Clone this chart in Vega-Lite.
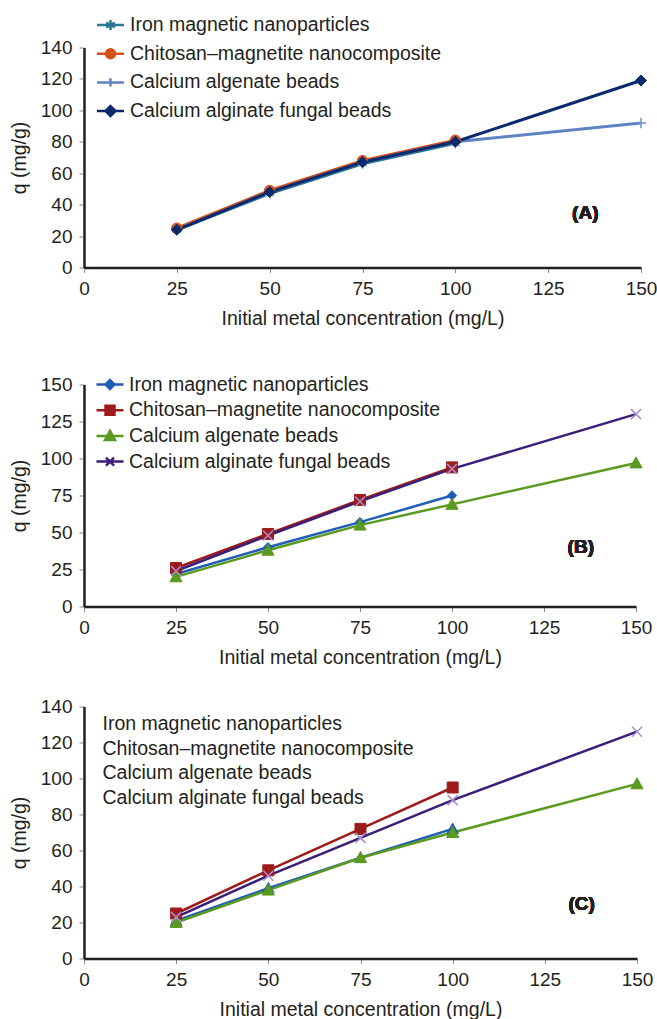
{
  "$schema": "https://vega.github.io/schema/vega-lite/v6.json",
  "padding": {"top": 9.5, "left": 9, "right": 5, "bottom": 5},
  "background": "white",
  "datasets": {
    "a": [
      {"series": "Iron magnetic nanoparticles", "conc": 25, "q": 24},
      {"series": "Iron magnetic nanoparticles", "conc": 50, "q": 47},
      {"series": "Iron magnetic nanoparticles", "conc": 75, "q": 66},
      {"series": "Iron magnetic nanoparticles", "conc": 100, "q": 79},
      {"series": "Chitosan–magnetite nanocomposite", "conc": 25, "q": 25},
      {"series": "Chitosan–magnetite nanocomposite", "conc": 50, "q": 49},
      {"series": "Chitosan–magnetite nanocomposite", "conc": 75, "q": 68},
      {"series": "Chitosan–magnetite nanocomposite", "conc": 100, "q": 81},
      {"series": "Calcium algenate beads", "conc": 25, "q": 24},
      {"series": "Calcium algenate beads", "conc": 50, "q": 48},
      {"series": "Calcium algenate beads", "conc": 75, "q": 67},
      {"series": "Calcium algenate beads", "conc": 100, "q": 80},
      {"series": "Calcium algenate beads", "conc": 150, "q": 92},
      {"series": "Calcium alginate fungal beads", "conc": 25, "q": 24},
      {"series": "Calcium alginate fungal beads", "conc": 50, "q": 48},
      {"series": "Calcium alginate fungal beads", "conc": 75, "q": 67},
      {"series": "Calcium alginate fungal beads", "conc": 100, "q": 80},
      {"series": "Calcium alginate fungal beads", "conc": 150, "q": 119}
    ],
    "b": [
      {"series": "Iron magnetic nanoparticles", "conc": 25, "q": 22},
      {"series": "Iron magnetic nanoparticles", "conc": 50, "q": 40},
      {"series": "Iron magnetic nanoparticles", "conc": 75, "q": 57},
      {"series": "Iron magnetic nanoparticles", "conc": 100, "q": 75},
      {"series": "Chitosan–magnetite nanocomposite", "conc": 25, "q": 26},
      {"series": "Chitosan–magnetite nanocomposite", "conc": 50, "q": 49},
      {"series": "Chitosan–magnetite nanocomposite", "conc": 75, "q": 72},
      {"series": "Chitosan–magnetite nanocomposite", "conc": 100, "q": 94},
      {"series": "Calcium algenate beads", "conc": 25, "q": 20},
      {"series": "Calcium algenate beads", "conc": 50, "q": 38},
      {"series": "Calcium algenate beads", "conc": 75, "q": 55},
      {"series": "Calcium algenate beads", "conc": 100, "q": 69},
      {"series": "Calcium algenate beads", "conc": 150, "q": 97},
      {"series": "Calcium alginate fungal beads", "conc": 25, "q": 24},
      {"series": "Calcium alginate fungal beads", "conc": 50, "q": 48},
      {"series": "Calcium alginate fungal beads", "conc": 75, "q": 71},
      {"series": "Calcium alginate fungal beads", "conc": 100, "q": 93},
      {"series": "Calcium alginate fungal beads", "conc": 150, "q": 130}
    ],
    "c": [
      {"series": "Iron magnetic nanoparticles", "conc": 25, "q": 21},
      {"series": "Iron magnetic nanoparticles", "conc": 50, "q": 39},
      {"series": "Iron magnetic nanoparticles", "conc": 75, "q": 56},
      {"series": "Iron magnetic nanoparticles", "conc": 100, "q": 72},
      {"series": "Chitosan–magnetite nanocomposite", "conc": 25, "q": 25},
      {"series": "Chitosan–magnetite nanocomposite", "conc": 50, "q": 49},
      {"series": "Chitosan–magnetite nanocomposite", "conc": 75, "q": 72},
      {"series": "Chitosan–magnetite nanocomposite", "conc": 100, "q": 95},
      {"series": "Calcium algenate beads", "conc": 25, "q": 20},
      {"series": "Calcium algenate beads", "conc": 50, "q": 38},
      {"series": "Calcium algenate beads", "conc": 75, "q": 56},
      {"series": "Calcium algenate beads", "conc": 100, "q": 70},
      {"series": "Calcium algenate beads", "conc": 150, "q": 97},
      {"series": "Calcium alginate fungal beads", "conc": 25, "q": 23},
      {"series": "Calcium alginate fungal beads", "conc": 50, "q": 46},
      {"series": "Calcium alginate fungal beads", "conc": 75, "q": 67},
      {"series": "Calcium alginate fungal beads", "conc": 100, "q": 88},
      {"series": "Calcium alginate fungal beads", "conc": 150, "q": 126}
    ]
  },
  "bounds": "flush",
  "spacing": 117,
  "resolve": {"scale": {"color": "independent", "fill": "independent", "stroke": "independent", "shape": "independent"}},
  "vconcat": [
    {
      "width": 557,
      "height": 220,
      "data": {"name": "a"},
      "encoding": {
        "x": {"field": "conc", "type": "quantitative", "title": "Initial metal concentration (mg/L)", "scale": {"domain": [0, 150], "nice": false}, "axis": {"values": [0, 25, 50, 75, 100, 125, 150]}},
        "y": {"field": "q", "type": "quantitative", "title": "q (mg/g)", "scale": {"domain": [0, 140], "nice": false}, "axis": {"values": [0, 20, 40, 60, 80, 100, 120, 140]}}
      },
      "layer": [
        {
          "mark": {"type": "line", "strokeWidth": 3},
          "encoding": {
            "color": {
              "field": "series", "type": "nominal",
              "scale": {"domain": ["Iron magnetic nanoparticles", "Chitosan–magnetite nanocomposite", "Calcium algenate beads", "Calcium alginate fungal beads"], "range": ["#2b7a94", "#d4501c", "#5f82c2", "#0b2a6e"]},
              "legend": {
                "orient": "none", "legendX": 11.5, "legendY": -37.5, "title": null,
                "symbolSize": 729, "symbolStrokeWidth": 2.5, "symbolOpacity": 1, "rowPadding": 3.7, "labelOffset": 4.5
              }
            }
          }
        },
        {
          "mark": {"type": "point", "opacity": 0, "filled": true},
          "encoding": {
            "color": {"field": "series", "type": "nominal"},
            "shape": {"field": "series", "type": "nominal", "legend": null, "scale": {"domain": ["Iron magnetic nanoparticles", "Chitosan–magnetite nanocomposite", "Calcium algenate beads", "Calcium alginate fungal beads"], "range": ["M-1,0H1M0,-0.37V0.37M-0.32,-0.18L0.32,0.18M-0.32,0.18L0.32,-0.18", "M-1,0H1M0.33,0A0.33,0.33 0 1,1 -0.33,0A0.33,0.33 0 1,1 0.33,0Z", "M-1,0H1M0,-0.3V0.3", "M-1,0H1M0,-0.37L0.37,0L0,0.37L-0.37,0Z"]}}
          }
        },
        {
          "transform": [{"filter": {"field": "series", "equal": "Iron magnetic nanoparticles"}}],
          "mark": {"type": "point", "shape": "M0,-1V1M-0.87,-0.5L0.87,0.5M-0.87,0.5L0.87,-0.5", "size": 110, "filled": false, "stroke": "#7cc5d9", "strokeWidth": 1.5, "opacity": 1}
        },
        {
          "transform": [{"filter": {"field": "series", "equal": "Chitosan–magnetite nanocomposite"}}],
          "mark": {"type": "point", "shape": "circle", "size": 110, "filled": true, "fill": "#d4501c", "stroke": "#d4501c", "strokeWidth": 1, "opacity": 1}
        },
        {
          "transform": [{"filter": {"field": "series", "equal": "Calcium algenate beads"}}],
          "mark": {"type": "point", "shape": "M-1,0H1M0,-1V1", "size": 110, "filled": false, "stroke": "#6f92d0", "strokeWidth": 1.5, "opacity": 1}
        },
        {
          "transform": [{"filter": {"field": "series", "equal": "Calcium alginate fungal beads"}}],
          "mark": {"type": "point", "shape": "diamond", "size": 120, "filled": true, "fill": "#0b2a6e", "stroke": "#0b2a6e", "strokeWidth": 1, "opacity": 1}
        },
        {
          "mark": {"type": "text", "text": "(A)", "fontSize": 19, "fontWeight": "bold", "font": "Liberation Sans", "color": "#231f20"},
          "encoding": {"x": {"datum": 135, "type": "quantitative"}, "y": {"datum": 35, "type": "quantitative"}}
        }
      ]
    },
    {
      "bounds": "flush",
      "spacing": 100,
      "resolve": {"scale": {"color": "independent", "fill": "independent", "stroke": "independent", "shape": "independent"}},
      "vconcat": [
        {
          "width": 552,
          "height": 222,
          "data": {"name": "b"},
          "encoding": {
            "x": {"field": "conc", "type": "quantitative", "title": "Initial metal concentration (mg/L)", "scale": {"domain": [0, 150], "nice": false}, "axis": {"values": [0, 25, 50, 75, 100, 125, 150]}},
            "y": {"field": "q", "type": "quantitative", "title": "q (mg/g)", "scale": {"domain": [0, 150], "nice": false}, "axis": {"values": [0, 25, 50, 75, 100, 125, 150]}}
          },
          "layer": [
            {
              "mark": {"type": "line", "strokeWidth": 2.5},
              "encoding": {
                "color": {
                  "field": "series", "type": "nominal",
                  "scale": {"domain": ["Iron magnetic nanoparticles", "Chitosan–magnetite nanocomposite", "Calcium algenate beads", "Calcium alginate fungal beads"], "range": ["#1f5eb5", "#9e1b1b", "#5b9a20", "#3a1e78"]},
                  "legend": {
                    "orient": "none", "legendX": 11, "legendY": -15, "title": null,
                    "symbolSize": 729, "symbolStrokeWidth": 2.5, "symbolOpacity": 1, "rowPadding": 0.7, "labelOffset": 4
                  }
                }
              }
            },
            {
              "mark": {"type": "point", "opacity": 0, "filled": true},
              "encoding": {
                "color": {"field": "series", "type": "nominal"},
                "shape": {"field": "series", "type": "nominal", "legend": null, "scale": {"domain": ["Iron magnetic nanoparticles", "Chitosan–magnetite nanocomposite", "Calcium algenate beads", "Calcium alginate fungal beads"], "range": ["M-1,0H1M0,-0.33L0.33,0L0,0.33L-0.33,0Z", "M-1,0H1M-0.33,-0.33H0.33V0.33H-0.33Z", "M-1,0H1M0,-0.37L0.37,0.3L-0.37,0.3Z", "M-1,0H1M-0.3,-0.3L0.3,0.3M-0.3,0.3L0.3,-0.3"]}}
              }
            },
            {
              "transform": [{"filter": {"field": "series", "equal": "Iron magnetic nanoparticles"}}],
              "mark": {"type": "point", "shape": "M0,-0.85L0.85,0L0,0.85L-0.85,0Z", "size": 121, "filled": true, "fill": "#1f5eb5", "stroke": "#1f5eb5", "strokeWidth": 1, "opacity": 1}
            },
            {
              "transform": [{"filter": {"field": "series", "equal": "Chitosan–magnetite nanocomposite"}}],
              "mark": {"type": "point", "shape": "square", "size": 121, "filled": true, "fill": "#9e1b1b", "stroke": "#9e1b1b", "strokeWidth": 1, "opacity": 1}
            },
            {
              "transform": [{"filter": {"field": "series", "equal": "Calcium algenate beads"}}],
              "mark": {"type": "point", "shape": "M0,-1.1L1.1,0.9L-1.1,0.9Z", "size": 121, "filled": true, "fill": "#5b9a20", "stroke": "#5b9a20", "strokeWidth": 1, "opacity": 1}
            },
            {
              "transform": [{"filter": {"field": "series", "equal": "Calcium alginate fungal beads"}}],
              "mark": {"type": "point", "shape": "M-1,-1L1,1M-1,1L1,-1", "size": 100, "filled": false, "stroke": "#a58fd0", "strokeWidth": 1.5, "opacity": 1}
            },
            {
              "mark": {"type": "text", "text": "(B)", "fontSize": 19, "fontWeight": "bold", "font": "Liberation Sans", "color": "#231f20"},
              "encoding": {"x": {"datum": 135, "type": "quantitative"}, "y": {"datum": 40, "type": "quantitative"}}
            }
          ]
        },
        {
          "width": 553,
          "height": 252,
          "data": {"name": "c"},
          "encoding": {
            "x": {"field": "conc", "type": "quantitative", "title": "Initial metal concentration (mg/L)", "scale": {"domain": [0, 150], "nice": false}, "axis": {"values": [0, 25, 50, 75, 100, 125, 150]}},
            "y": {"field": "q", "type": "quantitative", "title": "q (mg/g)", "scale": {"domain": [0, 140], "nice": false}, "axis": {"values": [0, 20, 40, 60, 80, 100, 120, 140]}}
          },
          "layer": [
            {
              "mark": {"type": "line", "strokeWidth": 2.5},
              "encoding": {
                "color": {
                  "field": "series", "type": "nominal",
                  "scale": {"domain": ["Iron magnetic nanoparticles", "Chitosan–magnetite nanocomposite", "Calcium algenate beads", "Calcium alginate fungal beads"], "range": ["#1f5eb5", "#9e1b1b", "#5b9a20", "#3a1e78"]},
                  "legend": {
                    "orient": "none", "legendX": -1, "legendY": 8, "title": null,
                    "symbolSize": 1, "symbolOpacity": 0, "rowPadding": 3.5, "labelOffset": 0
                  }
                }
              }
            },
            {
              "transform": [{"filter": {"field": "series", "equal": "Iron magnetic nanoparticles"}}],
              "mark": {"type": "point", "shape": "M0,-1.1L1.1,0.9L-1.1,0.9Z", "size": 110, "filled": true, "fill": "#1f5eb5", "stroke": "#1f5eb5", "strokeWidth": 1, "opacity": 1}
            },
            {
              "transform": [{"filter": {"field": "series", "equal": "Chitosan–magnetite nanocomposite"}}],
              "mark": {"type": "point", "shape": "square", "size": 121, "filled": true, "fill": "#9e1b1b", "stroke": "#9e1b1b", "strokeWidth": 1, "opacity": 1}
            },
            {
              "transform": [{"filter": {"field": "series", "equal": "Calcium algenate beads"}}],
              "mark": {"type": "point", "shape": "M0,-1.1L1.1,0.9L-1.1,0.9Z", "size": 121, "filled": true, "fill": "#5b9a20", "stroke": "#5b9a20", "strokeWidth": 1, "opacity": 1}
            },
            {
              "transform": [{"filter": {"field": "series", "equal": "Calcium alginate fungal beads"}}],
              "mark": {"type": "point", "shape": "M-1,-1L1,1M-1,1L1,-1", "size": 100, "filled": false, "stroke": "#a58fd0", "strokeWidth": 1.5, "opacity": 1}
            },
            {
              "mark": {"type": "text", "text": "(C)", "fontSize": 19, "fontWeight": "bold", "font": "Liberation Sans", "color": "#231f20"},
              "encoding": {"x": {"datum": 135, "type": "quantitative"}, "y": {"datum": 30.5, "type": "quantitative"}}
            }
          ]
        }
      ]
    }
  ],
  "config": {
    "font": "Liberation Sans",
    "view": {"stroke": null},
    "axis": {
      "grid": false,
      "domainColor": "#231f20", "domainWidth": 2.5,
      "tickColor": "#8a8a8a", "tickSize": 5, "tickWidth": 1,
      "labelFont": "Liberation Sans", "labelFontSize": 19, "labelColor": "#231f20", "labelFlush": false,
      "titleFont": "Liberation Sans", "titleFontSize": 19.5, "titleFontWeight": "normal", "titleColor": "#231f20"
    },
    "axisX": {"labelPadding": 7, "titlePadding": 11},
    "axisY": {"labelPadding": 7, "titlePadding": 11},
    "legend": {"labelFont": "Liberation Sans", "labelFontSize": 19.5, "labelColor": "#231f20", "padding": 0, "labelLimit": 0}
  }
}
